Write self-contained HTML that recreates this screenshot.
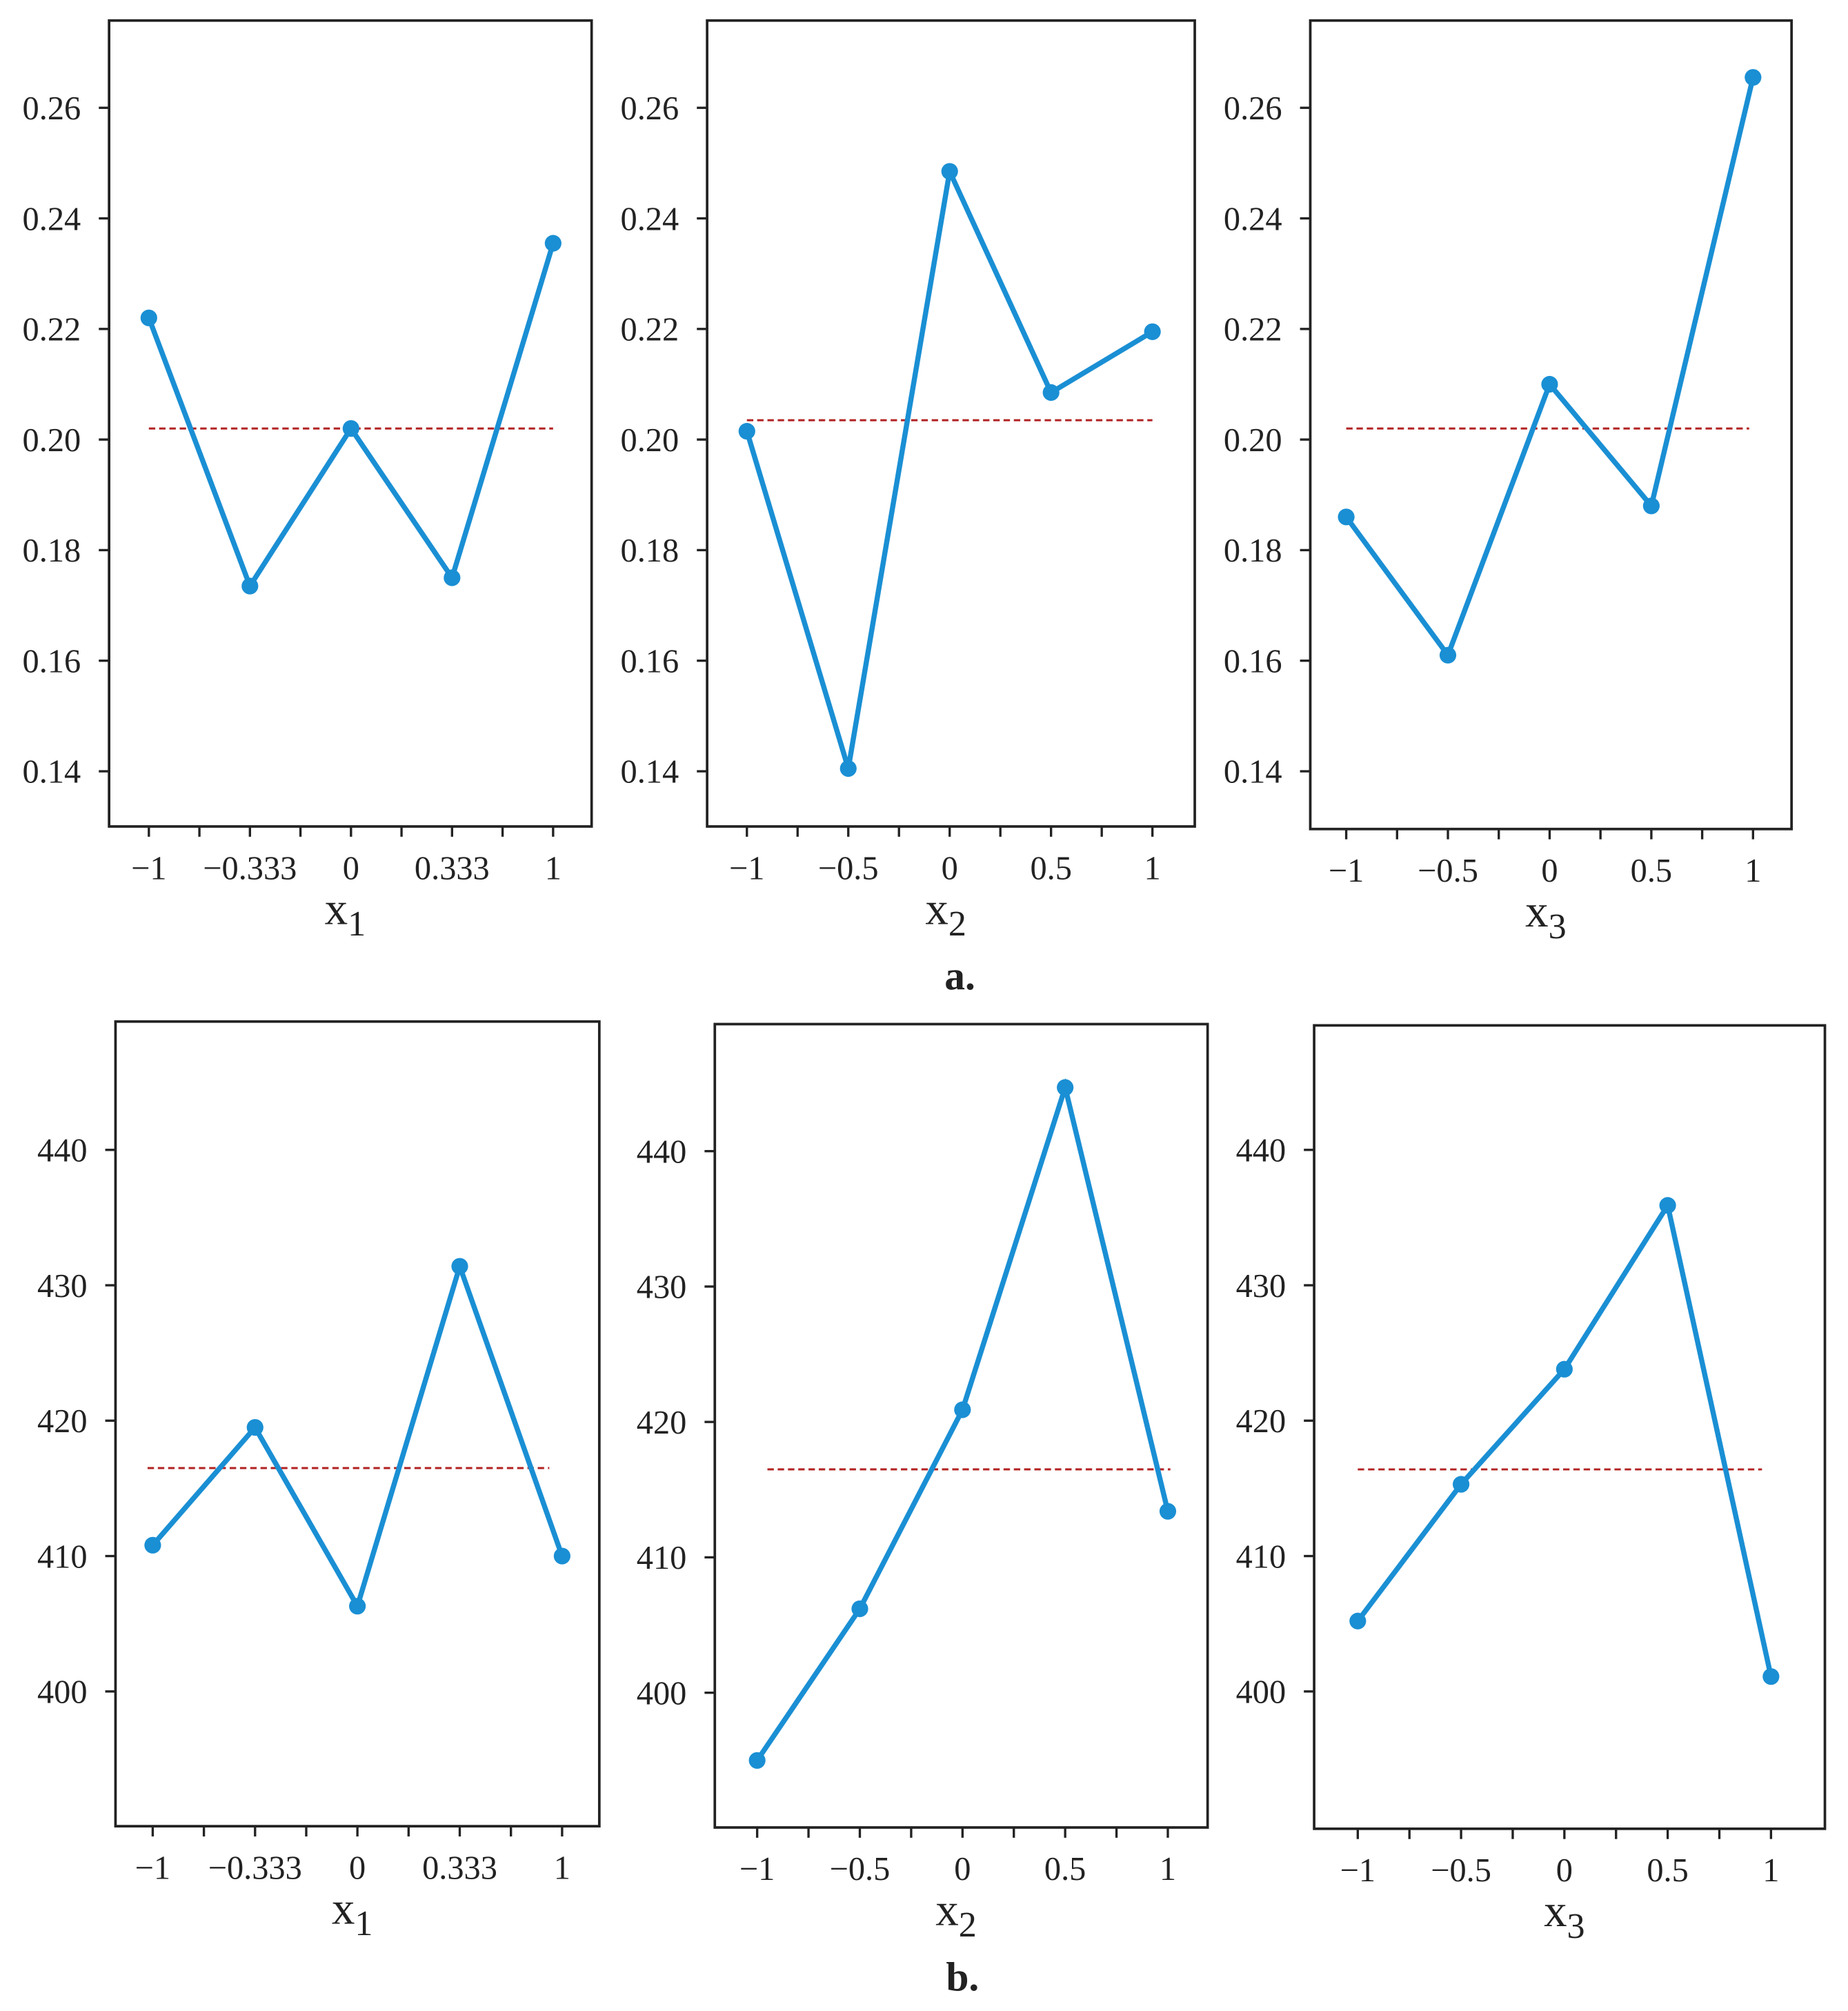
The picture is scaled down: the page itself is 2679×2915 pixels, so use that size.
<!DOCTYPE html>
<html><head><meta charset="utf-8"><style>
html,body{margin:0;padding:0;background:#fff;}
svg{display:block;}
text{font-family:"Liberation Serif",serif;fill:#222;}
</style></head><body>
<svg id="fig" width="2679" height="2915" viewBox="0 0 1440 1567" preserveAspectRatio="none" xmlns="http://www.w3.org/2000/svg">
<text x="748" y="771" font-size="32" font-weight="bold" text-anchor="middle">a.</text>
<text x="750" y="1551" font-size="32" font-weight="bold" text-anchor="middle">b.</text>
</svg>
<script>
// data arrays
const labelsX1 = ["\u22121","\u22120.333","0","0.333","1"];
const labelsX23 = ["\u22121","\u22120.5","0","0.5","1"];
const a1Values = [0.222, 0.1735, 0.202, 0.175, 0.2355];
const a2Values = [0.2015, 0.1405, 0.2485, 0.2085, 0.2195];
const a3Values = [0.186, 0.161, 0.210, 0.188, 0.2655];
const aMeans = [0.202, 0.2035, 0.202];
const aTicks = [0.14, 0.16, 0.18, 0.20, 0.22, 0.24, 0.26];
const aTickLabels = ["0.14","0.16","0.18","0.20","0.22","0.24","0.26"];
const b1Values = [410.8, 419.5, 406.3, 431.4, 410.0];
const b2Values = [395.0, 406.2, 420.9, 444.7, 413.4];
const b3Values = [405.2, 415.3, 423.8, 435.9, 401.1];
const bMeans = [416.5, 416.5, 416.4];
const bTicks = [400, 410, 420, 430, 440];
const bTickLabels = ["400","410","420","430","440"];

const NS="http://www.w3.org/2000/svg";
const svg=document.getElementById('fig');
function mk(tag,attrs,parent){const e=document.createElementNS(NS,tag);for(const k in attrs)e.setAttribute(k,attrs[k]);(parent||svg).appendChild(e);return e;}

const panels=[
 {name:'a1',box:[85,16,461,644],x0:116,x4:431,v0:0.26,p0:84,v1:0.14,p1:601,vals:a1Values,mean:aMeans[0],ml:[116,431],ticks:aTicks,tl:aTickLabels,xl:labelsX1,sub:'1'},
 {name:'a2',box:[551,16,931,644],x0:582,x4:898,v0:0.26,p0:84,v1:0.14,p1:601,vals:a2Values,mean:aMeans[1],ml:[582,898],ticks:aTicks,tl:aTickLabels,xl:labelsX23,sub:'2'},
 {name:'a3',box:[1021,16,1396,646],x0:1049,x4:1366,v0:0.26,p0:84,v1:0.14,p1:601,vals:a3Values,mean:aMeans[2],ml:[1049,1363],ticks:aTicks,tl:aTickLabels,xl:labelsX23,sub:'3'},
 {name:'b1',box:[90,796,467,1423],x0:119,x4:438,v0:440,p0:896,v1:400,p1:1318,vals:b1Values,mean:bMeans[0],ml:[115,428],ticks:bTicks,tl:bTickLabels,xl:labelsX1,sub:'1'},
 {name:'b2',box:[557,798,941,1424],x0:590,x4:910,v0:440,p0:897,v1:400,p1:1319,vals:b2Values,mean:bMeans[1],ml:[598,912],ticks:bTicks,tl:bTickLabels,xl:labelsX23,sub:'2'},
 {name:'b3',box:[1024,799,1422,1425],x0:1058,x4:1380,v0:440,p0:896,v1:400,p1:1318,vals:b3Values,mean:bMeans[2],ml:[1058,1373],ticks:bTicks,tl:bTickLabels,xl:labelsX23,sub:'3'}
];

panels.forEach(p=>{
  const g=mk('g',{});
  
  
  const [l,t,r,b]=p.box;
  const xs=i=>p.x0+(p.x4-p.x0)*i/4;
  const ys=v=>p.p0+(v-p.v0)*(p.p1-p.p0)/(p.v1-p.v0);
  const frame=mk('rect',{x:l,y:t,width:r-l,height:b-t,fill:'none',stroke:'#222','stroke-width':2},g);
  
  
  p.ticks.forEach((v,i)=>{
    const y=ys(v);
    mk('line',{x1:l-8,x2:l,y1:y,y2:y,stroke:'#222','stroke-width':1.8},g);
    const tx=mk('text',{x:l-22,y:y+9,'font-size':26,'text-anchor':'end'},g);
    tx.textContent=p.tl[i];
    
    
  });
  for(let k=0;k<=8;k++){
    const x=p.x0+(p.x4-p.x0)*k/8;
    mk('line',{x1:x,x2:x,y1:b,y2:b+8,stroke:'#222','stroke-width':1.8},g);
  }
  p.xl.forEach((s,i)=>{
    const tx=mk('text',{x:xs(i),y:b+41,'font-size':26,'text-anchor':'middle'},g);
    tx.textContent=s;
    
    
  });
  const xt=mk('text',{x:(l+r)/2-4,y:b+76,'font-size':36,'text-anchor':'middle'},g);
  xt.textContent='x';
  const sub=mk('tspan',{'font-size':28,dy:9},xt);
  sub.textContent=p.sub;
  
  
  const ml=mk('line',{x1:p.ml[0],x2:p.ml[1],y1:ys(p.mean),y2:ys(p.mean),stroke:'#b22222','stroke-width':1.6,'stroke-dasharray':'5,3'},g);
  
  
  const pts=p.vals.map((v,i)=>xs(i)+','+ys(v)).join(' ');
  const pl=mk('polyline',{points:pts,fill:'none',stroke:'#1a8fd4','stroke-width':4,'stroke-linejoin':'miter'},g);
  
  
  p.vals.forEach((v,i)=>{
    const c=mk('circle',{cx:xs(i),cy:ys(v),r:6.5,fill:'#1a8fd4'},g);
    
    
  });
});
</script>
</body></html>
